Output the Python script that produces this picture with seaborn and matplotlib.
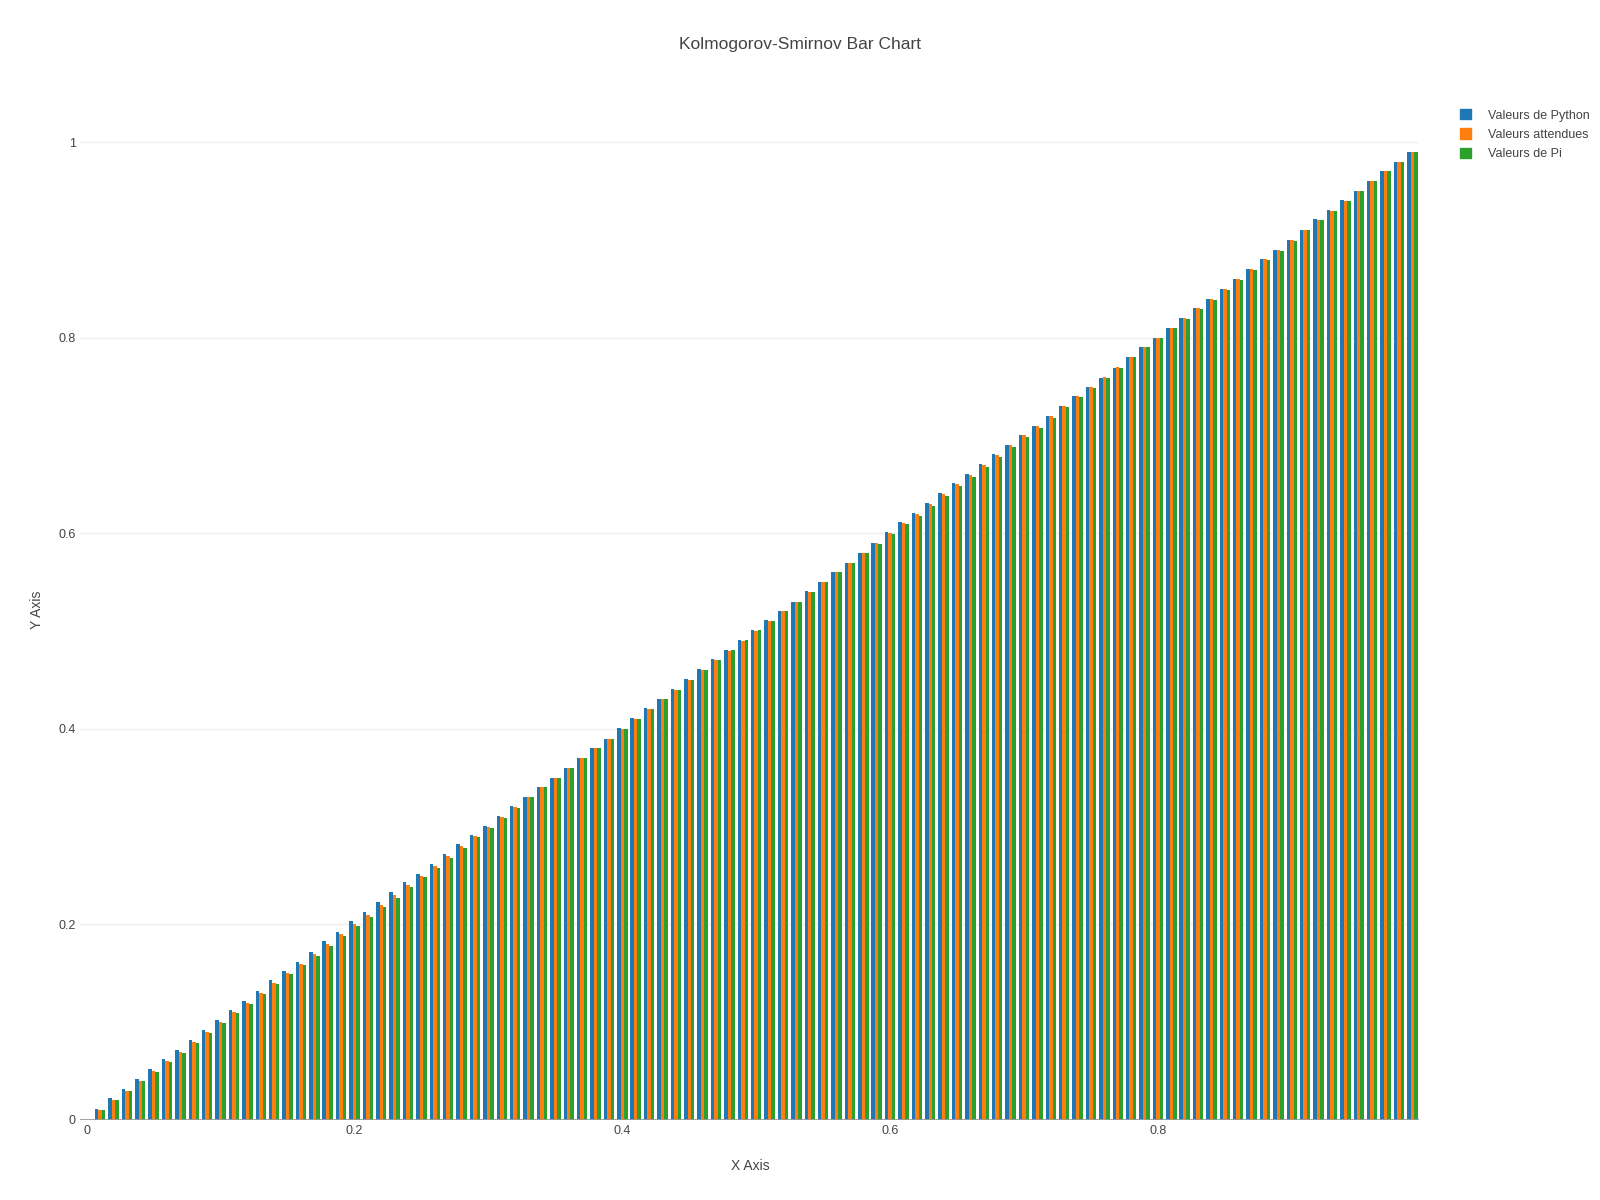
import pandas as pd
import matplotlib
matplotlib.use("Agg")
import matplotlib.pyplot as plt
import matplotlib.patches as mpatches
import seaborn as sns

# group positions (x) and the three series
x_values = [0.00, 0.01, 0.02, 0.03, 0.04, 0.05, 0.06, 0.07, 0.08, 0.09,
            0.10, 0.11, 0.12, 0.13, 0.14, 0.15, 0.16, 0.17, 0.18, 0.19,
            0.20, 0.21, 0.22, 0.23, 0.24, 0.25, 0.26, 0.27, 0.28, 0.29,
            0.30, 0.31, 0.32, 0.33, 0.34, 0.35, 0.36, 0.37, 0.38, 0.39,
            0.40, 0.41, 0.42, 0.43, 0.44, 0.45, 0.46, 0.47, 0.48, 0.49,
            0.50, 0.51, 0.52, 0.53, 0.54, 0.55, 0.56, 0.57, 0.58, 0.59,
            0.60, 0.61, 0.62, 0.63, 0.64, 0.65, 0.66, 0.67, 0.68, 0.69,
            0.70, 0.71, 0.72, 0.73, 0.74, 0.75, 0.76, 0.77, 0.78, 0.79,
            0.80, 0.81, 0.82, 0.83, 0.84, 0.85, 0.86, 0.87, 0.88, 0.89,
            0.90, 0.91, 0.92, 0.93, 0.94, 0.95, 0.96, 0.97, 0.98, 0.99]

python_values = [0.0, 0.011, 0.022, 0.032, 0.042, 0.052, 0.062, 0.072, 0.082, 0.092,
                 0.102, 0.112, 0.122, 0.132, 0.143, 0.152, 0.162, 0.172, 0.183, 0.192,
                 0.203, 0.213, 0.223, 0.233, 0.243, 0.252, 0.262, 0.272, 0.282, 0.291,
                 0.301, 0.311, 0.321, 0.330, 0.340, 0.350, 0.360, 0.370, 0.380, 0.390,
                 0.401, 0.411, 0.421, 0.431, 0.441, 0.451, 0.461, 0.471, 0.481, 0.491,
                 0.501, 0.511, 0.520, 0.530, 0.541, 0.550, 0.560, 0.570, 0.580, 0.590,
                 0.601, 0.611, 0.621, 0.631, 0.641, 0.651, 0.661, 0.671, 0.681, 0.690,
                 0.700, 0.710, 0.720, 0.730, 0.740, 0.750, 0.759, 0.769, 0.780, 0.790,
                 0.800, 0.810, 0.820, 0.830, 0.840, 0.850, 0.860, 0.870, 0.880, 0.890,
                 0.900, 0.910, 0.921, 0.931, 0.941, 0.950, 0.960, 0.970, 0.980, 0.990]

expected_values = [0.00, 0.01, 0.02, 0.03, 0.04, 0.05, 0.06, 0.07, 0.08, 0.09,
                   0.10, 0.11, 0.12, 0.13, 0.14, 0.15, 0.16, 0.17, 0.18, 0.19,
                   0.20, 0.21, 0.22, 0.23, 0.24, 0.25, 0.26, 0.27, 0.28, 0.29,
                   0.30, 0.31, 0.32, 0.33, 0.34, 0.35, 0.36, 0.37, 0.38, 0.39,
                   0.40, 0.41, 0.42, 0.43, 0.44, 0.45, 0.46, 0.47, 0.48, 0.49,
                   0.50, 0.51, 0.52, 0.53, 0.54, 0.55, 0.56, 0.57, 0.58, 0.59,
                   0.60, 0.61, 0.62, 0.63, 0.64, 0.65, 0.66, 0.67, 0.68, 0.69,
                   0.70, 0.71, 0.72, 0.73, 0.74, 0.75, 0.76, 0.77, 0.78, 0.79,
                   0.80, 0.81, 0.82, 0.83, 0.84, 0.85, 0.86, 0.87, 0.88, 0.89,
                   0.90, 0.91, 0.92, 0.93, 0.94, 0.95, 0.96, 0.97, 0.98, 0.99]

pi_values = [0.0, 0.010, 0.020, 0.030, 0.040, 0.049, 0.059, 0.069, 0.079, 0.089,
             0.099, 0.109, 0.119, 0.129, 0.139, 0.149, 0.159, 0.168, 0.178, 0.188,
             0.198, 0.208, 0.218, 0.227, 0.238, 0.248, 0.258, 0.268, 0.278, 0.289,
             0.299, 0.309, 0.319, 0.330, 0.340, 0.350, 0.360, 0.370, 0.380, 0.390,
             0.400, 0.410, 0.420, 0.430, 0.440, 0.450, 0.460, 0.470, 0.481, 0.491,
             0.501, 0.510, 0.520, 0.530, 0.540, 0.550, 0.560, 0.570, 0.580, 0.589,
             0.599, 0.609, 0.618, 0.628, 0.638, 0.648, 0.658, 0.668, 0.678, 0.688,
             0.698, 0.708, 0.718, 0.729, 0.739, 0.749, 0.759, 0.769, 0.780, 0.790,
             0.800, 0.810, 0.819, 0.829, 0.839, 0.849, 0.859, 0.869, 0.879, 0.889,
             0.899, 0.910, 0.920, 0.930, 0.940, 0.950, 0.960, 0.970, 0.980, 0.990]

series_names = ["Valeurs de Python", "Valeurs attendues", "Valeurs de Pi"]
series_colors = ["#1f77b4", "#ff7f0e", "#2ca02c"]

y_ticks = [0, 0.2, 0.4, 0.6, 0.8, 1]
y_tick_labels = ["0", "0.2", "0.4", "0.6", "0.8", "1"]
x_ticks = [0, 0.2, 0.4, 0.6, 0.8]
x_tick_labels = ["0", "0.2", "0.4", "0.6", "0.8"]

# long-form table for seaborn
df = pd.DataFrame({
    "x": x_values * 3,
    "value": python_values + expected_values + pi_values,
    "series": [series_names[0]] * len(x_values)
              + [series_names[1]] * len(x_values)
              + [series_names[2]] * len(x_values),
})

sns.set_style("white")
plt.rcParams["font.family"] = ["Liberation Sans", "DejaVu Sans"]
text_color = "#444444"

W, H = 1600, 1200
fig = plt.figure(figsize=(16, 12), dpi=100)
ax = fig.add_axes([80 / W, 80 / H, (1419 - 80) / W, (1100 - 80) / H])

sns.barplot(data=df, x="x", y="value", hue="series", hue_order=series_names,
            palette=series_colors, native_scale=True, width=0.78, dodge=True,
            saturation=1, linewidth=0, legend=False, errorbar=None, ax=ax)

ax.set_xlim(-0.005, 0.995)
ax.set_ylim(0, 1.043)

for y in y_ticks[1:]:
    ax.axhline(y, color="#eeeeee", lw=1, zorder=0)
ax.axhline(0, color="#999999", lw=2, zorder=5)

ax.set_yticks(y_ticks)
ax.set_yticklabels(y_tick_labels)
ax.set_xticks(x_ticks)
ax.set_xticklabels(x_tick_labels)
ax.tick_params(axis="both", length=0, labelsize=9, labelcolor=text_color)
ax.tick_params(axis="y", pad=3)
ax.tick_params(axis="x", pad=3.5)
for s in ax.spines.values():
    s.set_visible(False)
ax.set_xlabel("")
ax.set_ylabel("")

fig.text(800 / W, 1 - 44 / H, "Kolmogorov-Smirnov Bar Chart", ha="center",
         va="center", fontsize=12.5, color=text_color)
fig.text(750 / W, 1 - 1166 / H, "X Axis", ha="center", va="center",
         fontsize=10, color=text_color)
fig.text(37 / W, 1 - 610 / H, "Y Axis", ha="center", va="center",
         rotation=90, fontsize=10, color=text_color)

handles = [mpatches.Patch(facecolor=c, edgecolor=c, label=n)
           for n, c in zip(series_names, series_colors)]
fig.legend(handles=handles, loc="upper left", bbox_to_anchor=(1460 / W, 1 - 109 / H),
           frameon=False, fontsize=9, handlelength=0.9, handleheight=0.9,
           handletextpad=1.3, labelspacing=0.55, labelcolor=text_color,
           borderaxespad=0, borderpad=0)

fig.savefig("out.png", dpi=100, facecolor="white")
